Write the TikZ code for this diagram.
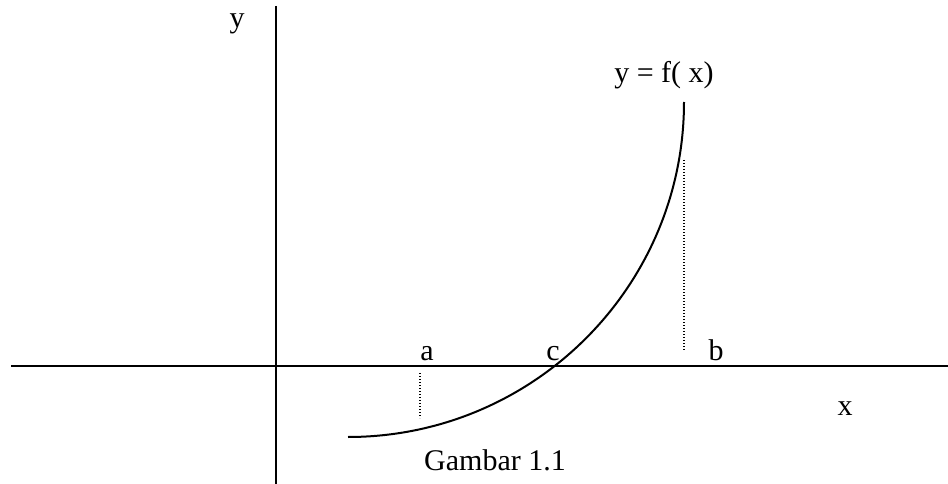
\documentclass[tikz,border=0pt]{standalone}
\usepackage{fontspec}
\setmainfont{Liberation Serif}
\begin{document}
\begin{tikzpicture}[x=1pt,y=-1pt,
  axis/.style={line width=2pt},
  curve/.style={line width=2pt},
  guide/.style={line width=1.4pt,dash pattern=on 1.4pt off 1.6pt},
  lbl/.style={anchor=base,inner sep=0pt,font=\fontsize{30}{30}\selectfont}]
\useasboundingbox (0,0) rectangle (948,484);
\coordinate (xl) at (11,366);
\coordinate (xr) at (948,366);
\coordinate (yt) at (276,6);
\coordinate (yb) at (276,484);
\draw[axis] (xl) -- (xr);
\draw[axis] (yt) -- (yb);
\coordinate (cs) at (348,437);
\coordinate (ce) at (684,102);
\draw[curve] (cs) .. controls (533,437) and (684,287) .. (ce);
\coordinate (at) at (420,373);
\coordinate (ab) at (420,418);
\draw[guide] (at) -- (ab);
\coordinate (bt) at (684,160);
\coordinate (bb) at (684,350);
\draw[guide] (bt) -- (bb);
\node[lbl] (ly) at (237,28) {y};
\node[lbl] (lf) at (664,83) {y = f( x)};
\node[lbl] (la) at (427,360) {a};
\node[lbl] (lc) at (553,360) {c};
\node[lbl] (lb) at (716,360) {b};
\node[lbl] (lx) at (845,415) {x};
\node[lbl] (lg) at (495,470) {Gambar 1.1};
\end{tikzpicture}
\end{document}
